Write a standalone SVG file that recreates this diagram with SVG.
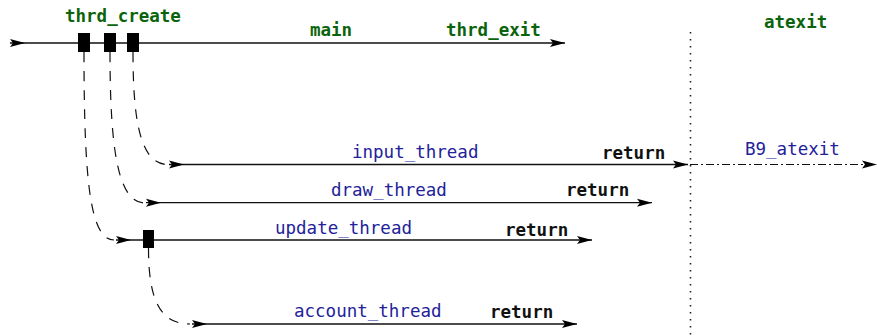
<svg xmlns="http://www.w3.org/2000/svg" width="877" height="336" viewBox="0 0 877 336">
<style>
.ln{fill:none;stroke:#111;stroke-width:1.3}
.ds{fill:none;stroke:#111;stroke-width:1.2;stroke-dasharray:10 9}
.dt{fill:none;stroke:#222;stroke-width:1.6;stroke-dasharray:1.6 5.4}
.dd{fill:none;stroke:#111;stroke-width:1.2;stroke-dasharray:8 3 2 3}
.g{font-family:"DejaVu Sans Mono",monospace;font-size:17.5px;font-weight:bold;fill:#0b640b}
.b{font-family:"DejaVu Sans Mono",monospace;font-size:17.5px;fill:#22229a}
.r{font-family:"DejaVu Sans Mono",monospace;font-size:17.5px;font-weight:bold;fill:#111}
.box{fill:#000}
</style>
<defs>
<marker id="ae" viewBox="-1 -5 17 10" markerWidth="17" markerHeight="10" refX="15" refY="0" orient="auto" markerUnits="userSpaceOnUse">
<path d="M0,-4 L15,0 L0,4 L3,0 z" fill="#000"/>
</marker>
<marker id="as" viewBox="-1 -5 17 10" markerWidth="17" markerHeight="10" refX="0" refY="0" orient="auto" markerUnits="userSpaceOnUse">
<path d="M0,-4 L15,0 L0,4 L3,0 z" fill="#000"/>
</marker>
</defs>
<g id="connectors">
<path class="dt" d="M690.5,32 L690.5,336"/>
<path id="main-line" class="ln" d="M10,43 L565,43" marker-start="url(#as)" marker-end="url(#ae)"/>
<path class="ln" d="M169,164.5 L688,164.5" marker-start="url(#as)" marker-end="url(#ae)"/>
<path class="ln" d="M146,202.7 L652,202.7" marker-start="url(#as)" marker-end="url(#ae)"/>
<path class="ln" d="M116,240 L592,240" marker-start="url(#as)" marker-end="url(#ae)"/>
<path class="ln" d="M192,324 L577,324" marker-start="url(#as)" marker-end="url(#ae)"/>
<path class="dd" d="M690,164.5 L877,164.5" marker-end="url(#ae)"/>
<path class="ds" d="M84,52 C84,180 90,240 114,240"/>
<path class="ds" d="M110,52 C110,150 118,203 145,203"/>
<path class="ds" d="M133,52 C133,120 140,164.5 168,164.5"/>
<path class="ds" d="M148.5,248 C148.5,300 160,324 190,324"/>
</g>
<g id="main">
<rect class="box" x="78" y="33" width="12" height="19"/>
<rect class="box" x="104" y="33" width="12" height="19"/>
<rect class="box" x="127" y="33" width="12" height="19"/>
<text class="g" x="65" y="22">thrd_create</text>
<text class="g" x="310" y="36">main</text>
<text class="g" x="446" y="36">thrd_exit</text>
</g>
<g id="atexit">
<text class="g" x="764" y="28">atexit</text>
<text class="b" x="745" y="155">B9_atexit</text>
</g>
<g id="input_thread">
<text class="b" x="352" y="158">input_thread</text>
<text class="r" x="602" y="159">return</text>
</g>
<g id="draw_thread">
<text class="b" x="331" y="196">draw_thread</text>
<text class="r" x="566" y="196">return</text>
</g>
<g id="update_thread">
<rect class="box" x="143" y="230" width="11" height="18"/>
<text class="b" x="275" y="234">update_thread</text>
<text class="r" x="505" y="236">return</text>
</g>
<g id="account_thread">
<text class="b" x="294" y="317">account_thread</text>
<text class="r" x="490" y="318">return</text>
</g>
</svg>
